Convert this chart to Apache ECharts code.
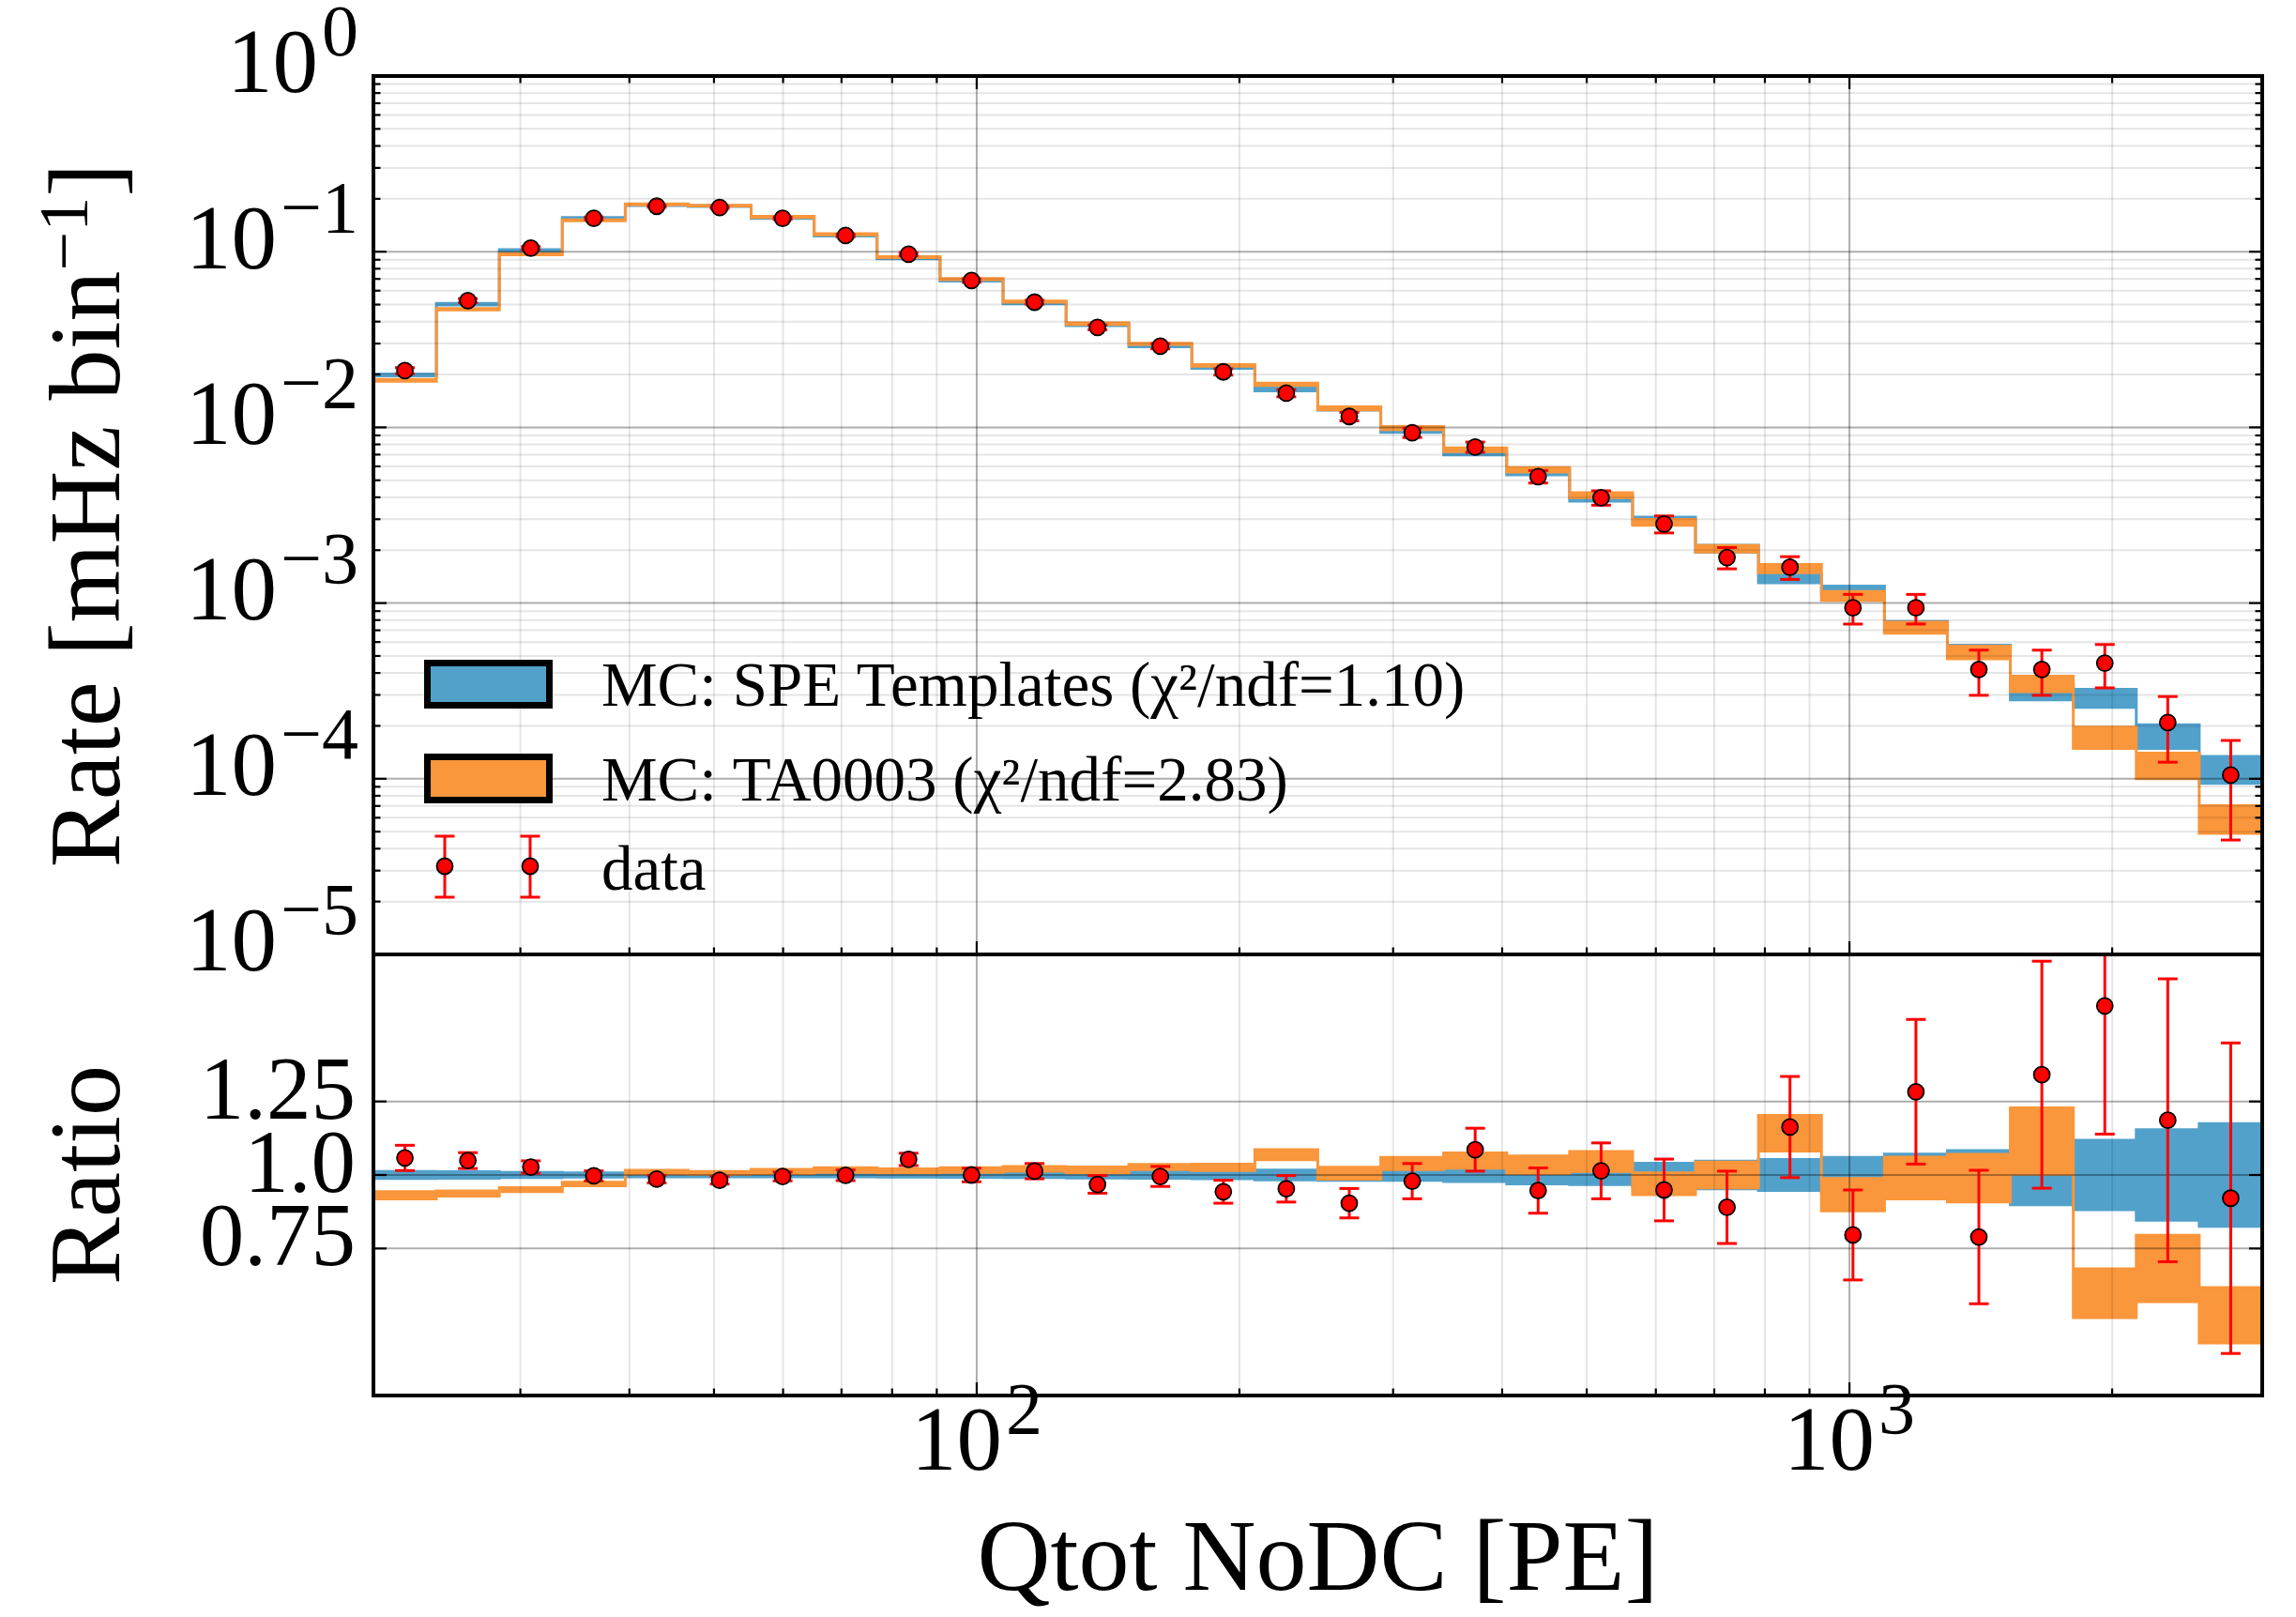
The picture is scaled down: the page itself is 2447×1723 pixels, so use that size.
<!DOCTYPE html>
<html>
<head>
<meta charset="utf-8">
<script src="https://cdn.jsdelivr.net/npm/echarts@6/dist/echarts.min.js"></script>
<style>
html,body{margin:0;padding:0;background:#ffffff;}
#chart{width:2447px;height:1723px;}
</style>
</head>
<body>
<div id="chart"></div>
<script>
// ---------------- data ----------------
const binEdges = [20.36, 24.04, 28.38, 33.51, 39.57, 46.71, 55.15, 65.12, 76.88, 90.78,
  107.2, 126.6, 149.4, 176.4, 208.3, 245.9, 290.4, 342.8, 404.8, 477.9,
  564.3, 666.2, 786.6, 928.8, 1096.7, 1294.8, 1528.8, 1805.1, 2131.3, 2516.4, 2971.3];

// measured rate of data [mHz per bin]
const dataRate = [0.02104, 0.0527, 0.1047, 0.155, 0.1815, 0.1785, 0.155, 0.1236, 0.0968, 0.0686,
  0.0516, 0.0371, 0.0290, 0.0207, 0.01567, 0.01154, 0.00933, 0.00773, 0.00525, 0.00398,
  0.00282, 0.001817, 0.0016, 0.00094, 0.00094, 0.000419, 0.000419, 0.000455, 0.000209, 0.000105];

// MC (SPE templates) central rate
const speRate = [0.01989, 0.05024, 0.1019, 0.1555, 0.1841, 0.1818, 0.1558, 0.1237, 0.0919, 0.0686,
  0.0509, 0.0383, 0.0291, 0.02195, 0.01644, 0.01277, 0.00953, 0.00712, 0.00554, 0.00393,
  0.00297, 0.00204, 0.001376, 0.00118, 0.000733, 0.000531, 0.0003125, 0.000289, 0.000176, 0.000114];

// ratio panel: data / SPE
const ratioData = [1.058, 1.049, 1.027, 0.997, 0.986, 0.982, 0.995, 0.999, 1.053, 1.0,
  1.013, 0.968, 0.995, 0.943, 0.953, 0.904, 0.979, 1.086, 0.947, 1.014,
  0.949, 0.890, 1.163, 0.796, 1.283, 0.789, 1.341, 1.575, 1.186, 0.921];
const ratioDataErr = [0.043, 0.027, 0.021, 0.017, 0.013, 0.013, 0.015, 0.018, 0.021, 0.023,
  0.026, 0.030, 0.034, 0.039, 0.045, 0.050, 0.060, 0.073, 0.077, 0.095,
  0.105, 0.123, 0.172, 0.153, 0.246, 0.227, 0.386, 0.436, 0.481, 0.528];

// ratio panel: SPE band half width (relative)
const ratioSpeErr = [0.012, 0.011, 0.009, 0.007, 0.006, 0.006, 0.006, 0.006, 0.007, 0.008,
  0.009, 0.010, 0.011, 0.013, 0.017, 0.018, 0.018, 0.022, 0.030, 0.033,
  0.040, 0.047, 0.053, 0.060, 0.071, 0.083, 0.101, 0.118, 0.154, 0.175];

// ratio panel: TA0003 / SPE, centre and half width
const ratioTa = [0.931, 0.937, 0.950, 0.969, 1.010, 1.007, 1.012, 1.017, 1.014, 1.017,
  1.021, 1.017, 1.027, 1.026, 1.069, 1.006, 1.039, 1.049, 1.035, 1.046,
  0.970, 1.000, 1.142, 0.933, 0.990, 0.989, 1.115, 0.598, 0.682, 0.523];
const ratioTaErr = [0.012, 0.009, 0.007, 0.006, 0.006, 0.005, 0.007, 0.008, 0.007, 0.008,
  0.008, 0.010, 0.009, 0.011, 0.017, 0.020, 0.021, 0.026, 0.030, 0.034,
  0.037, 0.044, 0.061, 0.055, 0.071, 0.081, 0.113, 0.083, 0.113, 0.094];

// axis ticks
const xMajorTicks = [100, 1000];
const xMinorTicks = [30, 40, 50, 60, 70, 80, 90, 200, 300, 400, 500, 600, 700, 800, 900, 2000];
const rateMajorTicks = [1e-5, 1e-4, 1e-3, 1e-2, 1e-1, 1];
const rateMinorTicks = [
  2e-5, 3e-5, 4e-5, 5e-5, 6e-5, 7e-5, 8e-5, 9e-5,
  2e-4, 3e-4, 4e-4, 5e-4, 6e-4, 7e-4, 8e-4, 9e-4,
  2e-3, 3e-3, 4e-3, 5e-3, 6e-3, 7e-3, 8e-3, 9e-3,
  2e-2, 3e-2, 4e-2, 5e-2, 6e-2, 7e-2, 8e-2, 9e-2,
  0.2, 0.3, 0.4, 0.5, 0.6, 0.7, 0.8, 0.9];
const ratioTicks = [0.75, 1.0, 1.25];
const ratioTickLabels = ['0.75', '1.0', '1.25'];

const legendLabels = ['MC: SPE Templates (χ²/ndf=1.10)', 'MC: TA0003 (χ²/ndf=2.83)', 'data'];
const xTitle = 'Qtot NoDC [PE]';

// ---------------- styles ----------------
const BLUE = '#52a1cb';
const ORANGE = '#fa963b';
const RED = '#ff0000';
const FONT = '"Liberation Serif", "DejaVu Serif", serif';
const MAJOR_GRID = 'rgba(0,0,0,0.32)';
const MINOR_GRID = 'rgba(0,0,0,0.10)';

// ---------------- derived tables ----------------
const nBins = dataRate.length;
const binCenter = [];
for (let i = 0; i < nBins; i++) binCenter.push(Math.sqrt(binEdges[i] * binEdges[i + 1]));

const speLo = speRate.map((v, i) => v * (1 - ratioSpeErr[i]));
const speHi = speRate.map((v, i) => v * (1 + ratioSpeErr[i]));
const taLo = speRate.map((v, i) => v * (ratioTa[i] - ratioTaErr[i]));
const taHi = speRate.map((v, i) => v * (ratioTa[i] + ratioTaErr[i]));
const rSpeLo = ratioSpeErr.map(e => 1 - e);
const rSpeHi = ratioSpeErr.map(e => 1 + e);
const rTaLo = ratioTa.map((v, i) => v - ratioTaErr[i]);
const rTaHi = ratioTa.map((v, i) => v + ratioTaErr[i]);

const topPoints = dataRate.map((v, i) => {
  const e = v * ratioDataErr[i] / ratioData[i];
  return [binCenter[i], v, v - e, v + e];
});
const ratioPoints = ratioData.map((v, i) => [binCenter[i], v, v - ratioDataErr[i], v + ratioDataErr[i]]);

// ---------------- render helpers ----------------
function bandRender(lo, hi, color) {
  return function (params, api) {
    if (params.dataIndex !== 0) return null;
    const pts = [];
    for (let i = 0; i < nBins; i++) {
      pts.push(api.coord([binEdges[i], hi[i]]));
      pts.push(api.coord([binEdges[i + 1], hi[i]]));
    }
    for (let i = nBins - 1; i >= 0; i--) {
      pts.push(api.coord([binEdges[i + 1], lo[i]]));
      pts.push(api.coord([binEdges[i], lo[i]]));
    }
    return { type: 'polygon', shape: { points: pts },
      style: { fill: color, stroke: color, lineWidth: 3, lineJoin: 'miter' } };
  };
}

function errRender(params, api) {
  const cs = params.coordSys;
  const x = api.value(0), y = api.value(1), lo = api.value(2), hi = api.value(3);
  const p = api.coord([x, y]);
  let yLo = api.coord([x, lo])[1];
  let yHi = api.coord([x, hi])[1];
  const T = cs.y, B = cs.y + cs.height;
  const capHi = yHi >= T, capLo = yLo <= B;
  yHi = Math.max(yHi, T); yLo = Math.min(yLo, B);
  const st = { stroke: RED, lineWidth: 3 };
  const ch = [{ type: 'line', shape: { x1: p[0], y1: yLo, x2: p[0], y2: yHi }, style: st }];
  if (capHi) ch.push({ type: 'line', shape: { x1: p[0] - 10.5, y1: yHi, x2: p[0] + 10.5, y2: yHi }, style: st });
  if (capLo) ch.push({ type: 'line', shape: { x1: p[0] - 10.5, y1: yLo, x2: p[0] + 10.5, y2: yLo }, style: st });
  ch.push({ type: 'circle', shape: { cx: p[0], cy: p[1], r: 8.5 },
    style: { fill: RED, stroke: '#000', lineWidth: 1.8 } });
  return { type: 'group', children: ch };
}

function gridRender(yMajor, yMinor, yRef) {
  return function (params, api) {
    if (params.dataIndex !== 0) return null;
    const cs = params.coordSys;
    const T = cs.y, B = cs.y + cs.height, L = cs.x, R = cs.x + cs.width;
    const ch = [];
    const vline = (v, c) => { const x = api.coord([v, yRef])[0];
      ch.push({ type: 'line', shape: { x1: x, y1: T, x2: x, y2: B }, style: { stroke: c, lineWidth: 2 } }); };
    const hline = (v, c) => { const y = api.coord([100, v])[1];
      ch.push({ type: 'line', shape: { x1: L, y1: y, x2: R, y2: y }, style: { stroke: c, lineWidth: 2 } }); };
    xMinorTicks.forEach(v => vline(v, MINOR_GRID));
    yMinor.forEach(v => hline(v, MINOR_GRID));
    xMajorTicks.forEach(v => vline(v, MAJOR_GRID));
    yMajor.forEach(v => hline(v, MAJOR_GRID));
    return { type: 'group', children: ch };
  };
}

function frameRender(yMajor, yMinor, yRef, topTicks) {
  return function (params, api) {
    if (params.dataIndex !== 0) return null;
    const cs = params.coordSys;
    const T = cs.y, B = cs.y + cs.height, L = cs.x, R = cs.x + cs.width;
    const ch = [];
    const tk = (x1, y1, x2, y2) => ch.push({ type: 'line', shape: { x1, y1, x2, y2 },
      style: { stroke: '#000', lineWidth: 2.2 } });
    const MAJ = 14, MIN = 7.5;
    xMajorTicks.forEach(v => { const x = api.coord([v, yRef])[0];
      tk(x, B, x, B - MAJ); if (topTicks) tk(x, T, x, T + MAJ); });
    xMinorTicks.forEach(v => { const x = api.coord([v, yRef])[0];
      tk(x, B, x, B - MIN); if (topTicks) tk(x, T, x, T + MIN); });
    yMajor.forEach(v => { const y = api.coord([100, v])[1]; tk(L, y, L + MAJ, y); tk(R, y, R - MAJ, y); });
    yMinor.forEach(v => { const y = api.coord([100, v])[1]; tk(L, y, L + MIN, y); tk(R, y, R - MIN, y); });
    ch.push({ type: 'rect', shape: { x: L, y: T, width: cs.width, height: cs.height },
      style: { fill: 'none', stroke: '#000', lineWidth: 4 } });
    return { type: 'group', children: ch };
  };
}

// ---------------- axes labels ----------------
const powRich = {
  b: { fontFamily: FONT, fontSize: 97, color: '#000', padding: [0, 0, 16, 0] },
  s: { fontFamily: FONT, fontSize: 78, color: '#000', padding: [0, 0, 84, 4] }
};
function powLabel(v) {
  const l = Math.log10(v);
  const e = Math.round(l);
  if (Math.abs(l - e) > 1e-6) return '';
  return '{b|10}{s|' + (e < 0 ? '−' : '') + Math.abs(e) + '}';
}

const chart = echarts.init(document.getElementById('chart'), null, { renderer: 'canvas' });

const option = {
  animation: false,
  backgroundColor: '#ffffff',
  grid: [
    { left: 398, top: 78, width: 2013, height: 939 },
    { left: 398, top: 1017, width: 2013, height: 470 }
  ],
  xAxis: [
    { gridIndex: 0, type: 'log', logBase: 10, min: binEdges[0], max: binEdges[nBins],
      axisLine: { show: false }, axisTick: { show: false }, axisLabel: { show: false }, splitLine: { show: false } },
    { gridIndex: 1, type: 'log', logBase: 10, min: binEdges[0], max: binEdges[nBins],
      axisLine: { show: false }, axisTick: { show: false }, splitLine: { show: false },
      axisLabel: { margin: -19, formatter: powLabel, rich: powRich },
      name: xTitle, nameLocation: 'middle', nameGap: 125,
      nameTextStyle: { fontFamily: FONT, fontSize: 108, color: '#000' } }
  ],
  yAxis: [
    { gridIndex: 0, type: 'log', logBase: 10, min: 1e-5, max: 1,
      axisLine: { show: false }, axisTick: { show: false }, splitLine: { show: false },
      axisLabel: { margin: 16, formatter: powLabel, rich: powRich },
      name: '{n|Rate [mHz bin}{s|−1}{n|]}', nameLocation: 'middle', nameRotate: 90, nameGap: 237,
      nameTextStyle: { fontFamily: FONT, fontSize: 108, color: '#000',
        rich: { n: { fontFamily: FONT, fontSize: 108, color: '#000' },
                s: { fontFamily: FONT, fontSize: 74, color: '#000', padding: [0, 0, 50, 0] } } } },
    { gridIndex: 1, type: 'value', min: 0.25, max: 1.75, interval: 0.25,
      axisLine: { show: false }, axisTick: { show: false }, splitLine: { show: false },
      axisLabel: { margin: 19,
        formatter: function (v) {
          for (let k = 0; k < ratioTicks.length; k++) {
            if (Math.abs(v - ratioTicks[k]) < 1e-9) return '{r|' + ratioTickLabels[k] + '}';
          }
          return '';
        },
        rich: { r: { fontFamily: FONT, fontSize: 95, color: '#000', padding: [0, 0, 14, 0] } } },
      name: 'Ratio', nameLocation: 'middle', nameRotate: 90, nameGap: 245,
      nameTextStyle: { fontFamily: FONT, fontSize: 108, color: '#000' } }
  ],
  series: [
    // ---- top panel ----
    { type: 'custom', name: legendLabels[0], xAxisIndex: 0, yAxisIndex: 0, z: 1,
      renderItem: bandRender(speLo, speHi, BLUE), data: speRate.map((v, i) => [binCenter[i], v]) },
    { type: 'custom', name: legendLabels[1], xAxisIndex: 0, yAxisIndex: 0, z: 2,
      renderItem: bandRender(taLo, taHi, ORANGE), data: speRate.map((v, i) => [binCenter[i], v * ratioTa[i]]) },
    { type: 'custom', xAxisIndex: 0, yAxisIndex: 0, z: 3, silent: true,
      renderItem: gridRender(rateMajorTicks, rateMinorTicks, 0.1), data: [[100, 0.1]] },
    { type: 'custom', name: legendLabels[2], xAxisIndex: 0, yAxisIndex: 0, z: 4,
      renderItem: errRender, data: topPoints },
    { type: 'custom', xAxisIndex: 0, yAxisIndex: 0, z: 5, silent: true,
      renderItem: frameRender(rateMajorTicks, rateMinorTicks, 0.1, true), data: [[100, 0.1]] },
    // ---- ratio panel ----
    { type: 'custom', xAxisIndex: 1, yAxisIndex: 1, z: 1,
      renderItem: bandRender(rSpeLo, rSpeHi, BLUE), data: ratioSpeErr.map((e, i) => [binCenter[i], 1]) },
    { type: 'custom', xAxisIndex: 1, yAxisIndex: 1, z: 2,
      renderItem: bandRender(rTaLo, rTaHi, ORANGE), data: ratioTa.map((v, i) => [binCenter[i], v]) },
    { type: 'custom', xAxisIndex: 1, yAxisIndex: 1, z: 3, silent: true,
      renderItem: gridRender(ratioTicks, [], 1), data: [[100, 1]] },
    { type: 'custom', xAxisIndex: 1, yAxisIndex: 1, z: 4,
      renderItem: errRender, data: ratioPoints },
    { type: 'custom', xAxisIndex: 1, yAxisIndex: 1, z: 5, silent: true,
      renderItem: frameRender(ratioTicks, [], 1, false), data: [[100, 1]] }
  ],
  graphic: { elements: [
    { type: 'rect', z: 20, shape: { x: 455.5, y: 706.5, width: 130, height: 45 },
      style: { fill: BLUE, stroke: '#000', lineWidth: 7 } },
    { type: 'rect', z: 20, shape: { x: 455.5, y: 806.5, width: 130, height: 46 },
      style: { fill: ORANGE, stroke: '#000', lineWidth: 7 } },
    { type: 'text', z: 20, x: 641, y: 734,
      style: { text: legendLabels[0], fontFamily: FONT, fontSize: 67, fill: '#000', verticalAlign: 'middle', textVerticalAlign: 'middle' } },
    { type: 'text', z: 20, x: 641, y: 835,
      style: { text: legendLabels[1], fontFamily: FONT, fontSize: 67, fill: '#000', verticalAlign: 'middle', textVerticalAlign: 'middle' } },
    { type: 'text', z: 20, x: 641, y: 930,
      style: { text: legendLabels[2], fontFamily: FONT, fontSize: 67, fill: '#000', verticalAlign: 'middle', textVerticalAlign: 'middle' } },
    // data legend key: two points with error bars
    { type: 'group', z: 20, children: [474, 565].map(cx => ({
      type: 'group', children: [
        { type: 'line', shape: { x1: cx, y1: 891, x2: cx, y2: 956 }, style: { stroke: RED, lineWidth: 3 } },
        { type: 'line', shape: { x1: cx - 10.5, y1: 891, x2: cx + 10.5, y2: 891 }, style: { stroke: RED, lineWidth: 3 } },
        { type: 'line', shape: { x1: cx - 10.5, y1: 956, x2: cx + 10.5, y2: 956 }, style: { stroke: RED, lineWidth: 3 } },
        { type: 'circle', shape: { cx: cx, cy: 923, r: 8.5 }, style: { fill: RED, stroke: '#000', lineWidth: 1.8 } }
      ] })) }
  ] }
};

chart.setOption(option);
</script>
</body>
</html>
